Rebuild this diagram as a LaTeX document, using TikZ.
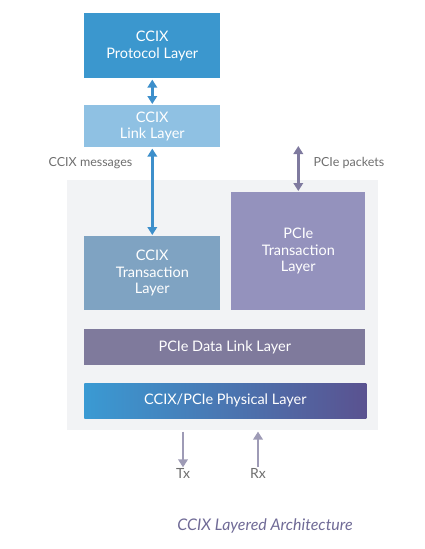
\documentclass[tikz,border=0pt]{standalone}
\usepackage{fontspec}
\setmainfont{Lato}
\usetikzlibrary{arrows.meta}
\definecolor{protocol}{HTML}{3B97CE}
\definecolor{link}{HTML}{8FC1E3}
\definecolor{ccixtrans}{HTML}{7FA3C2}
\definecolor{pcietrans}{HTML}{9492BD}
\definecolor{datalink}{HTML}{7F7A9C}
\definecolor{phyleft}{HTML}{3A9AD3}
\definecolor{phyright}{HTML}{5A5290}
\definecolor{backdrop}{HTML}{F2F3F5}
\definecolor{labelgray}{HTML}{6E6E6E}
\definecolor{ccixarrow}{HTML}{3D8FCB}
\definecolor{pciearrow}{HTML}{7F7A9F}
\definecolor{wirearrow}{HTML}{9E9BB6}
\definecolor{caption}{HTML}{6F6A96}

\begin{document}
\begin{tikzpicture}[x=1pt,y=-1pt,>={Triangle[length=8pt,width=9.5pt]},
                    line width=2.6pt,font=\fontsize{14.5}{16.5}\selectfont]
  \tikzstyle{layer}=[rectangle,anchor=north west,text=white,align=center,
                     inner sep=0pt]
  \tikzstyle{tag}=[text=labelgray,font=\fontsize{12.5}{14}\selectfont]

  \useasboundingbox (0,0) rectangle (424,549);

  \node[rectangle,anchor=north west,fill=backdrop,minimum width=311pt,
        minimum height=250pt,inner sep=0pt] (bg) at (66,179) {};

  \node[layer,fill=protocol,minimum width=136pt,minimum height=65pt]
       (P) at (83,12) {CCIX\\Protocol Layer};
  \node[layer,fill=link,minimum width=136pt,minimum height=42pt]
       (L) at (83,104) {CCIX\\Link Layer};
  \node[layer,fill=ccixtrans,minimum width=136pt,minimum height=74pt]
       (CT) at (83,235) {CCIX\\Transaction\\Layer};
  \node[layer,fill=pcietrans,minimum width=134pt,minimum height=118pt]
       (PT) at (230,191) {PCIe\\Transaction\\Layer};
  \node[layer,fill=datalink,minimum width=281pt,minimum height=36pt]
       (DL) at (83,328) {PCIe Data Link Layer};
  \node[layer,left color=phyleft,right color=phyright,minimum width=282pt,
        minimum height=35pt] (PHY) at (83,382) {CCIX/PCIe Physical Layer};

  \coordinate (top) at (PT.north |- 0,146);
  \node[tag,anchor=east] (msg) at (137,163) {CCIX messages};
  \node[tag,anchor=west] (pkt) at (309,163) {PCIe packets};
  \node[tag,font=\fontsize{14}{16}\selectfont] (tx) at (183,473) {Tx};
  \node[tag,font=\fontsize{14}{16}\selectfont] (rx) at (258,473) {Rx};

  \node[text=caption,font=\fontsize{16}{18}\selectfont\itshape]
       (cap) at (265,526) {CCIX Layered Architecture};

  \draw[<->,ccixarrow] (P.south) -- (L.north);
  \draw[<->,ccixarrow] (L.south) -- (CT.north);
  \draw[<->,pciearrow] (top) -- (PT.north);
  \draw[->,wirearrow] (bg.south -| tx) -- ([yshift=-4pt]tx.north);
  \draw[->,wirearrow] ([yshift=-4pt]rx.north) -- (bg.south -| rx);
\end{tikzpicture}
\end{document}
